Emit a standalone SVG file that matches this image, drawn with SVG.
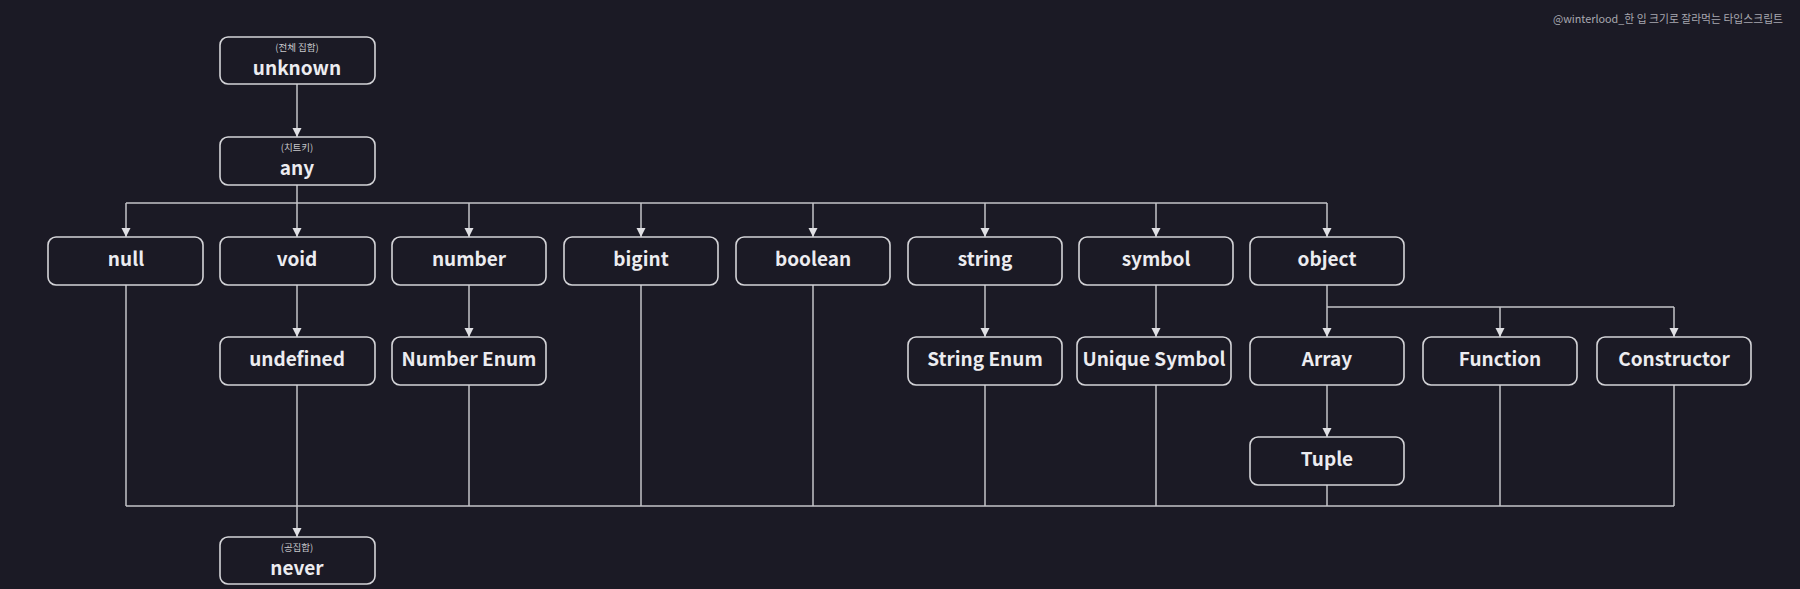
<svg xmlns="http://www.w3.org/2000/svg" width="1800" height="589" viewBox="0 0 1800 589">
<style>
.bg{fill:#1b1a25}
.box{fill:#1b1a25;stroke:#d4d4d8;stroke-width:1.6}
.lbl{font-family:"Noto Sans CJK KR","Noto Sans",sans-serif;font-weight:700;font-size:19px;fill:#ececf0;text-anchor:middle}
.sub{font-family:"Noto Sans CJK KR","Noto Sans",sans-serif;font-size:9.5px;fill:#c8c8cc;text-anchor:middle}
.wm{font-family:"Noto Sans CJK KR","Noto Sans",sans-serif;font-size:10.8px;fill:#a8a8b0;text-anchor:end}
.ln{fill:none;stroke:#c4c4c8;stroke-width:1.5}
</style>
<defs>
<marker id="ah" markerUnits="userSpaceOnUse" markerWidth="10" markerHeight="10" refX="9" refY="5" orient="auto" viewBox="0 0 10 10">
<path d="M0,0.5 L9,5 L0,9.5 z" fill="#e0e0e4"/>
</marker>
</defs>
<rect class="bg" x="0" y="0" width="1800" height="589"/>
<text class="wm" x="1783" y="23">@winterlood_한 입 크기로 잘라먹는 타입스크립트</text>
<g id="connectors">
<path class="ln" d="M297,84 V137" marker-end="url(#ah)"/>
<path class="ln" d="M297,185 V237" marker-end="url(#ah)"/>
<path class="ln" d="M126,203 H1327"/>
<path class="ln" d="M126,203 V237" marker-end="url(#ah)"/>
<path class="ln" d="M469,203 V237" marker-end="url(#ah)"/>
<path class="ln" d="M641,203 V237" marker-end="url(#ah)"/>
<path class="ln" d="M813,203 V237" marker-end="url(#ah)"/>
<path class="ln" d="M985,203 V237" marker-end="url(#ah)"/>
<path class="ln" d="M1156,203 V237" marker-end="url(#ah)"/>
<path class="ln" d="M1327,203 V237" marker-end="url(#ah)"/>
<path class="ln" d="M297,285 V337" marker-end="url(#ah)"/>
<path class="ln" d="M469,285 V337" marker-end="url(#ah)"/>
<path class="ln" d="M985,285 V337" marker-end="url(#ah)"/>
<path class="ln" d="M1156,285 V337" marker-end="url(#ah)"/>
<path class="ln" d="M1327,285 V337" marker-end="url(#ah)"/>
<path class="ln" d="M1327,307 H1674"/>
<path class="ln" d="M1500,307 V337" marker-end="url(#ah)"/>
<path class="ln" d="M1674,307 V337" marker-end="url(#ah)"/>
<path class="ln" d="M1327,385 V437" marker-end="url(#ah)"/>
<path class="ln" d="M126,506 H1674"/>
<path class="ln" d="M126,285 V506"/>
<path class="ln" d="M469,385 V506"/>
<path class="ln" d="M641,285 V506"/>
<path class="ln" d="M813,285 V506"/>
<path class="ln" d="M985,385 V506"/>
<path class="ln" d="M1156,385 V506"/>
<path class="ln" d="M1327,485 V506"/>
<path class="ln" d="M1500,385 V506"/>
<path class="ln" d="M1674,385 V506"/>
<path class="ln" d="M297,385 V537" marker-end="url(#ah)"/>
</g>
<g id="unknown"><rect class="box" x="220" y="37" width="155" height="47" rx="8"/><text class="sub" x="297" y="51">(전체 집합)</text><text class="lbl" x="297" y="75">unknown</text></g>
<g id="any"><rect class="box" x="220" y="137" width="155" height="48" rx="8"/><text class="sub" x="297" y="151">(치트키)</text><text class="lbl" x="297" y="175">any</text></g>
<g id="null"><rect class="box" x="48" y="237" width="155" height="48" rx="8"/><text class="lbl" x="126" y="266">null</text></g>
<g id="void"><rect class="box" x="220" y="237" width="155" height="48" rx="8"/><text class="lbl" x="297" y="266">void</text></g>
<g id="number"><rect class="box" x="392" y="237" width="154" height="48" rx="8"/><text class="lbl" x="469" y="266">number</text></g>
<g id="bigint"><rect class="box" x="564" y="237" width="154" height="48" rx="8"/><text class="lbl" x="641" y="266">bigint</text></g>
<g id="boolean"><rect class="box" x="736" y="237" width="154" height="48" rx="8"/><text class="lbl" x="813" y="266">boolean</text></g>
<g id="string"><rect class="box" x="908" y="237" width="154" height="48" rx="8"/><text class="lbl" x="985" y="266">string</text></g>
<g id="symbol"><rect class="box" x="1079" y="237" width="154" height="48" rx="8"/><text class="lbl" x="1156" y="266">symbol</text></g>
<g id="object"><rect class="box" x="1250" y="237" width="154" height="48" rx="8"/><text class="lbl" x="1327" y="266">object</text></g>
<g id="undefined"><rect class="box" x="220" y="337" width="155" height="48" rx="8"/><text class="lbl" x="297" y="366">undefined</text></g>
<g id="number-enum"><rect class="box" x="392" y="337" width="154" height="48" rx="8"/><text class="lbl" x="469" y="366">Number Enum</text></g>
<g id="string-enum"><rect class="box" x="908" y="337" width="154" height="48" rx="8"/><text class="lbl" x="985" y="366">String Enum</text></g>
<g id="unique-symbol"><rect class="box" x="1077" y="337" width="154" height="48" rx="8"/><text class="lbl" x="1154" y="366">Unique Symbol</text></g>
<g id="array"><rect class="box" x="1250" y="337" width="154" height="48" rx="8"/><text class="lbl" x="1327" y="366">Array</text></g>
<g id="function"><rect class="box" x="1423" y="337" width="154" height="48" rx="8"/><text class="lbl" x="1500" y="366">Function</text></g>
<g id="constructor"><rect class="box" x="1597" y="337" width="154" height="48" rx="8"/><text class="lbl" x="1674" y="366">Constructor</text></g>
<g id="tuple"><rect class="box" x="1250" y="437" width="154" height="48" rx="8"/><text class="lbl" x="1327" y="466">Tuple</text></g>
<g id="never"><rect class="box" x="220" y="537" width="155" height="47" rx="8"/><text class="sub" x="297" y="551">(공집합)</text><text class="lbl" x="297" y="575">never</text></g>
</svg>
